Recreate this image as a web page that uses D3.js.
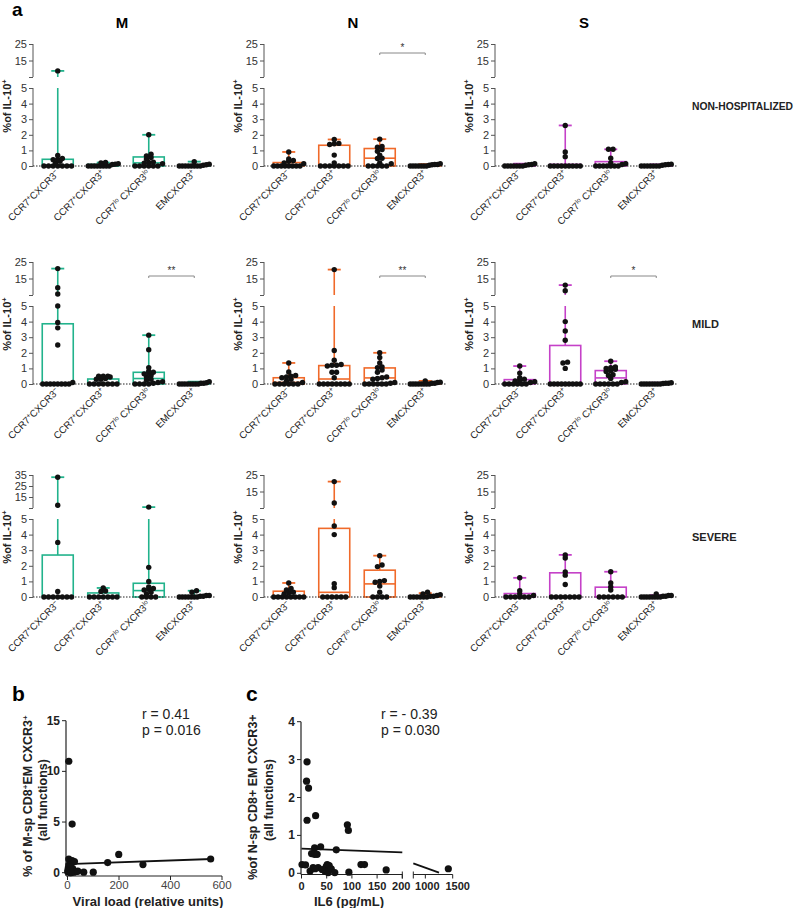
<!DOCTYPE html>
<html><head><meta charset="utf-8">
<script src="https://cdn.jsdelivr.net/npm/d3@7"></script>
<style>body{margin:0;background:#fff}svg{font-family:"Liberation Sans",Arial,sans-serif}</style>
</head><body><svg id="chart" width="797" height="908"></svg>
<script>
// ---------- DATA ----------
const columns = ["M", "N", "S"];
const rows = ["NON-HOSPITALIZED", "MILD", "SEVERE"];
const categories = ["CCR7+CXCR3-", "CCR7+CXCR3+", "CCR7lo CXCR3lo", "EMCXCR3+"];
const categoryLabelParts = [
  [["CCR7", 0], ["+", 1], ["CXCR3", 0], ["\u2212", 1]],
  [["CCR7", 0], ["+", 1], ["CXCR3", 0], ["+", 1]],
  [["CCR7", 0], ["lo", 1], [" CXCR3", 0], ["lo", 1]],
  [["EMCXCR3", 0], ["+", 1]]
];
const lowerTicks = [0, 1, 2, 3, 4, 5];
const upperTicksByRow = [[15, 25], [15, 25], [15, 25]];
const upperTicksM3 = [15, 25, 35];
const upperMaxByPanel = [[25, 25, 25], [25, 25, 25], [35, 25, 25]];

// points per category; boxes: [median, q3, max] (q1 = 0)
const nhM_pts = [[8.7,0.68,0.48,0.42,0.4,0.3,0.2,0,0,0,0,0,0,0],[0.22,0.2,0.15,0.12,0.1,0,0,0,0,0,0,0,0],[2.0,0.75,0.65,0.55,0.45,0.25,0.22,0.18,0.15,0,0,0,0,0,0],[0.28,0.12,0.08,0.05,0,0,0,0,0,0,0,0]];
const nhM_box = [[0.05,0.43,8.7],[0.02,0.1,0.22],[0.2,0.58,2.0],[0.02,0.05,0.28]];
const nhN_pts = [[0.9,0.45,0.35,0.3,0.2,0.15,0,0,0,0,0,0,0,0],[1.7,1.45,1.42,1.38,0.7,0.2,0,0,0,0,0,0,0],[1.72,1.25,1.2,1.05,0.95,0.7,0.5,0.48,0.2,0.15,0,0,0,0,0],[0.15,0.1,0.1,0.08,0.05,0,0,0,0,0,0,0]];
const nhN_box = [[0.05,0.22,0.9],[0,1.33,1.7],[0.5,1.12,1.72],[0.02,0.05,0.12]];
const nhS_pts = [[0.15,0.1,0.08,0.05,0,0,0,0,0,0,0],[2.6,0.9,0.6,0,0,0,0,0,0,0,0,0],[1.07,1.07,0.5,0.2,0.15,0.1,0,0,0,0,0,0,0],[0.12,0.1,0.08,0.05,0,0,0,0,0,0,0]];
const nhS_box = [[0.02,0.08,0.15],[0,0.1,2.6],[0.08,0.28,1.07],[0.02,0.04,0.1]];

const mildM_pts = [[21,9.4,5.6,5.0,3.95,3.6,2.5,0.1,0,0,0,0,0,0,0,0],[0.5,0.5,0.5,0.45,0.35,0.3,0.3,0,0,0,0,0,0,0],[3.13,2.2,1.05,0.82,0.75,0.7,0.65,0.55,0.45,0.3,0.25,0.15,0.1,0.05,0,0,0,0],[0.15,0.08,0.05,0.05,0,0,0,0,0,0,0,0]];
const mildM_box = [[0,3.86,21],[0.02,0.32,0.5],[0.35,0.75,3.13],[0.02,0.05,0.15]];
const mildN_pts = [[1.35,0.77,0.55,0.5,0.45,0.4,0.3,0.2,0.1,0,0,0,0,0,0],[20.4,2.15,1.52,1.25,1.2,1.2,1.15,0.75,0.75,0.4,0,0,0,0,0,0,0,0],[2.0,1.7,1.35,1.1,1.05,0.9,0.75,0.45,0.4,0.35,0.3,0.1,0.05,0,0,0,0,0,0],[0.2,0.12,0.1,0.05,0.05,0,0,0,0,0,0,0,0]];
const mildN_box = [[0.1,0.4,1.35],[0.32,1.18,20.4],[0.39,1.03,2.0],[0.02,0.05,0.2]];
const mildS_pts = [[1.15,0.7,0.4,0.3,0.25,0.2,0.15,0.1,0,0,0,0,0,0],[11,7.6,4.0,3.4,2.8,1.4,1.35,1.0,0,0,0,0,0,0,0,0,0],[1.46,1.1,1.05,1.0,0.95,0.85,0.8,0.6,0.55,0.35,0.15,0.1,0,0,0,0,0,0],[0.08,0.05,0.05,0.03,0,0,0,0,0,0,0,0]];
const mildS_box = [[0.05,0.28,1.15],[0,2.47,11],[0.39,0.86,1.46],[0.02,0.04,0.08]];

const sevM_pts = [[33,7.5,3.5,0.35,0,0,0,0,0,0,0],[0.58,0.38,0.36,0,0,0,0,0,0,0],[5.8,1.9,1.0,0.65,0.55,0.5,0.45,0.3,0.2,0,0,0,0],[0.4,0.3,0.1,0.1,0.05,0.05,0,0,0,0,0,0,0]];
const sevM_box = [[0,2.69,33],[0,0.26,0.58],[0.41,0.88,5.8],[0.03,0.08,0.4]];
const sevN_pts = [[0.9,0.55,0.45,0.3,0.28,0.2,0,0,0,0,0,0,0,0],[21,8,4.55,4.0,0.85,0.6,0,0,0,0,0,0],[2.65,2.05,1.95,1.05,1.0,0.95,0.7,0.3,0,0,0,0],[0.3,0.2,0.15,0.1,0.05,0.05,0,0,0,0,0,0]];
const sevN_box = [[0.05,0.37,0.9],[0.3,4.4,21],[0.84,1.72,2.65],[0.02,0.06,0.25]];
const sevS_pts = [[1.23,0.4,0.2,0.1,0,0,0,0,0,0],[2.7,2.5,1.6,1.4,0.8,0,0,0,0,0,0,0],[1.62,0.9,0.65,0.45,0,0,0,0,0,0],[0.2,0.1,0.1,0.05,0.05,0,0,0,0,0,0,0,0]];
const sevS_box = [[0,0.22,1.23],[0,1.55,2.7],[0,0.63,1.62],[0.02,0.05,0.12]];

const panelPoints = [[nhM_pts, nhN_pts, nhS_pts], [mildM_pts, mildN_pts, mildS_pts], [sevM_pts, sevN_pts, sevS_pts]];
const panelBoxes = [[nhM_box, nhN_box, nhS_box], [mildM_box, mildN_box, mildS_box], [sevM_box, sevN_box, sevS_box]];
// significance: [row, col, label] between categories 3 and 4
const sigMarks = [[0, 1, "*"], [1, 0, "**"], [1, 1, "**"], [1, 2, "*"]];
const colColors = ["#22b38c", "#f06a2a", "#c541c8"];

// panel b
const bViral = [5, 18, 5, 18, 27, 199, 156, 293, 556, 63, 100, 40, 20, 3, 1, 10, 25, 5, 8, 12, 35, 2, 14];
const bPct = [11, 4.8, 1.35, 1.2, 1.1, 1.8, 1.0, 0.8, 1.35, 0.05, 0.05, 0.15, 0.4, 0.45, 0.1, 0.0, 0.05, 0.75, 0.25, 0.6, 0.12, 0.2, 0.0];
const bFit = [[0, 0.85], [560, 1.35]];
const bXTicks = [0, 200, 400, 600];
const bYTicks = [0, 5, 10, 15];
// panel c
const cIL6 = [11, 10, 14, 11, 28, 91, 93, 26, 38, 20, 26, 31, 69, 1, 8, 17, 23, 33, 27, 49, 51, 55, 47, 53, 59, 66, 94, 118, 125, 168, 1420, 41];
const cPct = [2.94, 2.43, 2.25, 1.4, 1.52, 1.28, 1.13, 0.67, 0.7, 0.52, 0.5, 0.5, 0.62, 0.23, 0.22, 0.06, 0.15, 0.15, 0.12, 0.18, 0.23, 0.2, 0.05, 0.02, 0.12, 0.02, 0.03, 0.23, 0.23, 0.09, 0.12, 0.1];
const cFitLow = [[0, 0.65], [200, 0.55]];
const cFitHigh = [[780, 0.26], [1250, 0.02]];
const cXTicksLow = [0, 50, 100, 150, 200];
const cXTicksHigh = [1000, 1500];
const cYTicks = [0, 1, 2, 3, 4];

// ---------- LAYOUT ----------
const svg = d3.select("#chart");
const axisXs = [33, 264, 495];
const zeroYs = [166, 384, 597];
const panelW = 182;
const axisCol = "#555", textCol = "#333";

svg.append("text").attr("x", 12).attr("y", 16).attr("font-size", 19).attr("font-weight", "bold").text("a");
columns.forEach((c, i) => {
  svg.append("text").attr("x", axisXs[i] + 89).attr("y", 28).attr("text-anchor", "middle")
    .attr("font-size", 15).attr("font-weight", "bold").text(c);
});
rows.forEach((r, i) => {
  const t = svg.append("text").attr("x", 692).attr("y", zeroYs[i] - 56).attr("font-size", i === 0 ? 10 : 11)
    .attr("font-weight", "bold").attr("fill", "#222").text(r);
  if (i === 0) t.attr("textLength", 101).attr("lengthAdjust", "spacingAndGlyphs");
});

// GraphPad-like scatter: points in the same pixel row are spread side by side (compressed to fit)
function swarm(vals, yFn, cx, step, binH, maxSpan) {
  const items = vals.map(v => ({ v, y: yFn(v) })).sort((a, b) => b.y - a.y);
  const groups = [];
  items.forEach(it => {
    const gLast = groups[groups.length - 1];
    if (gLast && gLast[0].y - it.y < binH) gLast.push(it); else groups.push([it]);
  });
  const placed = [];
  groups.forEach(gr => {
    const n = gr.length;
    const s = n > 1 ? Math.min(step, maxSpan / (n - 1)) : 0;
    gr.forEach((it, i) => placed.push({ x: cx + (i - (n - 1) / 2) * s, y: it.y }));
  });
  return placed;
}

for (let r = 0; r < 3; r++) {
  for (let c = 0; c < 3; c++) {
    const ax = axisXs[c], y0 = zeroYs[r], col = colColors[c];
    const g = svg.append("g");
    const yLow = d3.scaleLinear().domain([0, 5]).range([y0, y0 - 78]);
    const upMax = upperMaxByPanel[r][c];
    const yUp = d3.scaleLinear().domain([5, upMax]).range([y0 - 89, y0 - 122]);
    const yv = v => v <= 5 ? yLow(v) : yUp(v);
    const xs = d3.scalePoint().domain(categories).range([ax + 2, ax + panelW + 2]).padding(0.5);

    const lowAx = g.append("g").attr("transform", `translate(${ax},0)`)
      .call(d3.axisLeft(yLow).tickValues(lowerTicks).tickSize(4).tickPadding(2).tickFormat(d3.format("d")));
    const upTicks = (r === 2 && c === 0) ? upperTicksM3 : upperTicksByRow[r];
    const upAx = g.append("g").attr("transform", `translate(${ax},0)`)
      .call(d3.axisLeft(yUp).tickValues([5].concat(upTicks)).tickSize(4).tickPadding(2).tickFormat(d => d === 5 ? "" : d));
    [lowAx, upAx].forEach(a => {
      a.select(".domain").remove();
      a.selectAll(".tick line").attr("stroke", axisCol);
      a.selectAll(".tick text").attr("font-size", 11).attr("fill", textCol).attr("font-family", "Liberation Sans, Arial, sans-serif");
    });
    g.append("line").attr("x1", ax).attr("x2", ax).attr("y1", yLow(0)).attr("y2", yLow(5)).attr("stroke", axisCol);
    g.append("line").attr("x1", ax).attr("x2", ax).attr("y1", yUp(5)).attr("y2", yUp(upMax)).attr("stroke", axisCol);

    const lab = g.append("text").attr("transform", `translate(${ax - 22},${y0 - 60}) rotate(-90)`)
      .attr("text-anchor", "middle").attr("font-size", 11).attr("font-weight", "bold").attr("fill", "#222");
    lab.append("tspan").text("%of IL-10");
    lab.append("tspan").attr("dy", -4).attr("font-size", 7.5).text("+");

    categories.forEach((cat, i) => {
      const t = g.append("text").attr("transform", `translate(${xs(cat) + 2},${y0 + 8}) rotate(-45)`)
        .attr("text-anchor", "end").attr("font-size", 9.8).attr("fill", "#222");
      let sup = false;
      categoryLabelParts[i].forEach(([s, isSup]) => {
        const ts = t.append("tspan").text(s);
        if (isSup && !sup) { ts.attr("dy", -3.5).attr("font-size", 6.5); sup = true; }
        else if (!isSup && sup) { ts.attr("dy", 3.5); sup = false; }
        else if (isSup) ts.attr("font-size", 6.5);
      });
    });

    const boxes = panelBoxes[r][c];
    categories.forEach((cat, i) => {
      const [med, q3, mx] = boxes[i];
      const cx = xs(cat), bw = 31, cap = 13;
      g.append("line").attr("x1", cx).attr("x2", cx).attr("y1", yLow(q3)).attr("y2", yLow(Math.min(mx, 5)))
        .attr("stroke", col).attr("stroke-width", 1.6);
      if (mx > 5) {
        g.append("line").attr("x1", cx).attr("x2", cx).attr("y1", yUp(5)).attr("y2", yUp(mx))
          .attr("stroke", col).attr("stroke-width", 1.6);
      }
      g.append("line").attr("x1", cx - cap / 2).attr("x2", cx + cap / 2).attr("y1", yv(mx)).attr("y2", yv(mx))
        .attr("stroke", col).attr("stroke-width", 1.8);
      g.append("rect").attr("x", cx - bw / 2).attr("y", yLow(q3)).attr("width", bw).attr("height", yLow(0) - yLow(q3))
        .attr("fill", "white").attr("stroke", col).attr("stroke-width", 1.6);
      g.append("line").attr("x1", cx - bw / 2).attr("x2", cx + bw / 2).attr("y1", yLow(med)).attr("y2", yLow(med))
        .attr("stroke", col).attr("stroke-width", 1.6);
    });
    g.append("line").attr("x1", ax).attr("x2", ax + panelW).attr("y1", y0).attr("y2", y0)
      .attr("stroke", "#222").attr("stroke-width", 1).attr("stroke-dasharray", "1.5,1.5");
    const pts = panelPoints[r][c];
    categories.forEach((cat, i) => {
      const placed = swarm(pts[i], yv, xs(cat), 4.6, 2.6, 30);
      g.selectAll(null).data(placed).enter().append("circle")
        .attr("cx", d => d.x).attr("cy", d => d.y).attr("r", 2.7).attr("fill", "#111");
    });
  }
}
sigMarks.forEach(([r, c, label]) => {
  const ax = axisXs[c];
  const xs = d3.scalePoint().domain(categories).range([ax + 2, ax + panelW + 2]).padding(0.5);
  const yb = zeroYs[r] - (r === 0 ? 113 : 108);
  const x1 = xs(categories[2]), x2 = xs(categories[3]);
  svg.append("path").attr("d", `M${x1},${yb + 2}V${yb}H${x2}V${yb + 2}`).attr("fill", "none").attr("stroke", "#888").attr("stroke-width", 1);
  svg.append("text").attr("x", (x1 + x2) / 2).attr("y", yb - 2).attr("text-anchor", "middle").attr("font-size", 10).attr("fill", "#333").text(label);
});

// ---------- PANEL b ----------
svg.append("text").attr("x", 12).attr("y", 701).attr("font-size", 21).attr("font-weight", "bold").text("b");
{
  const x = d3.scaleLinear().domain([0, 600]).range([67.5, 222]);
  const y = d3.scaleLinear().domain([0, 15]).range([872.7, 720.7]);
  const g = svg.append("g");
  g.append("line").attr("x1", 66).attr("x2", 66).attr("y1", y(15)).attr("y2", 876).attr("stroke", "#222").attr("stroke-width", 1.2);
  g.append("line").attr("x1", 66).attr("x2", x(600)).attr("y1", 876).attr("y2", 876).attr("stroke", "#222").attr("stroke-width", 1.2);
  bYTicks.forEach(t => {
    g.append("line").attr("x1", 62).attr("x2", 66).attr("y1", y(t)).attr("y2", y(t)).attr("stroke", "#222");
    g.append("text").attr("x", 60).attr("y", y(t) + 4).attr("text-anchor", "end").attr("font-size", 12).attr("font-weight", "bold").attr("fill", "#222").text(t);
  });
  bXTicks.forEach(t => {
    g.append("line").attr("x1", x(t)).attr("x2", x(t)).attr("y1", 876).attr("y2", 880).attr("stroke", "#222");
    g.append("text").attr("x", x(t)).attr("y", 889).attr("text-anchor", "middle").attr("font-size", 11.5).attr("fill", "#444").text(t);
  });
  g.append("line").attr("x1", x(bFit[0][0])).attr("y1", y(bFit[0][1])).attr("x2", x(bFit[1][0])).attr("y2", y(bFit[1][1]))
    .attr("stroke", "#111").attr("stroke-width", 1.8);
  g.selectAll(null).data(bViral.map((v, i) => [v, bPct[i]])).enter().append("circle")
    .attr("cx", d => x(d[0])).attr("cy", d => y(d[1])).attr("r", 3.6).attr("fill", "#111");
  g.append("text").attr("x", 142).attr("y", 719).attr("font-size", 14).attr("fill", "#222").text("r = 0.41");
  g.append("text").attr("x", 142).attr("y", 735).attr("font-size", 14).attr("fill", "#222").text("p = 0.016");
  const l1 = g.append("text").attr("transform", "translate(32,796) rotate(-90)").attr("text-anchor", "middle")
    .attr("font-size", 12.5).attr("font-weight", "bold").attr("fill", "#222");
  l1.append("tspan").text("% of M-sp CD8");
  l1.append("tspan").attr("dy", -4).attr("font-size", 8).text("+");
  l1.append("tspan").attr("dy", 4).text("EM CXCR3");
  l1.append("tspan").attr("dy", -4).attr("font-size", 8).text("+");
  g.append("text").attr("transform", "translate(47,800) rotate(-90)").attr("text-anchor", "middle")
    .attr("font-size", 12.5).attr("font-weight", "bold").attr("fill", "#222").text("(all functions)");
  g.append("text").attr("x", 148).attr("y", 906).attr("text-anchor", "middle").attr("font-size", 13)
    .attr("font-weight", "bold").attr("fill", "#222").text("Viral load (relative units)");
}

// ---------- PANEL c ----------
svg.append("text").attr("x", 246).attr("y", 701).attr("font-size", 21).attr("font-weight", "bold").text("c");
{
  const xL = d3.scaleLinear().domain([0, 200]).range([301.5, 402.3]);
  const xH = d3.scaleLinear().domain([780, 1500]).range([413.3, 452.7]);
  const xv = v => v <= 200 ? xL(v) : xH(v);
  const y = d3.scaleLinear().domain([0, 4]).range([873.3, 721.7]);
  const g = svg.append("g");
  const yb = 874.5;
  g.append("line").attr("x1", 301).attr("x2", 301).attr("y1", y(4)).attr("y2", yb).attr("stroke", "#222").attr("stroke-width", 1.2);
  g.append("line").attr("x1", 301).attr("x2", xL(200)).attr("y1", yb).attr("y2", yb).attr("stroke", "#222").attr("stroke-width", 1.2);
  g.append("line").attr("x1", xH(780)).attr("x2", xH(1500)).attr("y1", yb).attr("y2", yb).attr("stroke", "#222").attr("stroke-width", 1.2);
  cYTicks.forEach(t => {
    g.append("line").attr("x1", 297).attr("x2", 301).attr("y1", y(t)).attr("y2", y(t)).attr("stroke", "#222");
    g.append("text").attr("x", 295).attr("y", y(t) + 4).attr("text-anchor", "end").attr("font-size", 12).attr("font-weight", "bold").attr("fill", "#222").text(t);
  });
  cXTicksLow.forEach(t => {
    g.append("line").attr("x1", xL(t)).attr("x2", xL(t)).attr("y1", yb).attr("y2", yb + 4).attr("stroke", "#222");
    g.append("text").attr("x", xL(t) - (t === 200 ? 1 : 0)).attr("y", 890).attr("text-anchor", "middle").attr("font-size", 11).attr("font-weight", "bold").attr("fill", "#222").text(t);
  });
  g.append("line").attr("x1", xH(780)).attr("x2", xH(780)).attr("y1", yb - 3).attr("y2", yb + 4).attr("stroke", "#222");
  g.append("line").attr("x1", xL(200)).attr("x2", xL(200)).attr("y1", yb - 3).attr("y2", yb + 4).attr("stroke", "#222");
  cXTicksHigh.forEach(t => {
    g.append("line").attr("x1", xH(t)).attr("x2", xH(t)).attr("y1", yb).attr("y2", yb + 4).attr("stroke", "#222");
    g.append("text").attr("x", xH(t) + (t === 1500 ? 5 : 2)).attr("y", 890).attr("text-anchor", "middle").attr("font-size", 11).attr("font-weight", "bold").attr("fill", "#222").text(t);
  });
  [cFitLow, cFitHigh].forEach(f => {
    g.append("line").attr("x1", xv(f[0][0])).attr("y1", y(f[0][1])).attr("x2", xv(f[1][0])).attr("y2", y(f[1][1]))
      .attr("stroke", "#111").attr("stroke-width", 1.8);
  });
  g.selectAll(null).data(cIL6.map((v, i) => [v, cPct[i]])).enter().append("circle")
    .attr("cx", d => xv(d[0])).attr("cy", d => y(d[1])).attr("r", 3.6).attr("fill", "#111");
  g.append("text").attr("x", 381).attr("y", 719).attr("font-size", 14).attr("fill", "#222").text("r = - 0.39");
  g.append("text").attr("x", 381).attr("y", 735).attr("font-size", 14).attr("fill", "#222").text("p = 0.030");
  g.append("text").attr("transform", "translate(257,797) rotate(-90)").attr("text-anchor", "middle")
    .attr("font-size", 12.5).attr("font-weight", "bold").attr("fill", "#222").text("%of N-sp CD8+ EM CXCR3+");
  g.append("text").attr("transform", "translate(273,800) rotate(-90)").attr("text-anchor", "middle")
    .attr("font-size", 12.5).attr("font-weight", "bold").attr("fill", "#222").text("(all functions)");
  g.append("text").attr("x", 349).attr("y", 906).attr("text-anchor", "middle").attr("font-size", 13)
    .attr("font-weight", "bold").attr("fill", "#222").text("IL6 (pg/mL)");
}
</script></body></html>
